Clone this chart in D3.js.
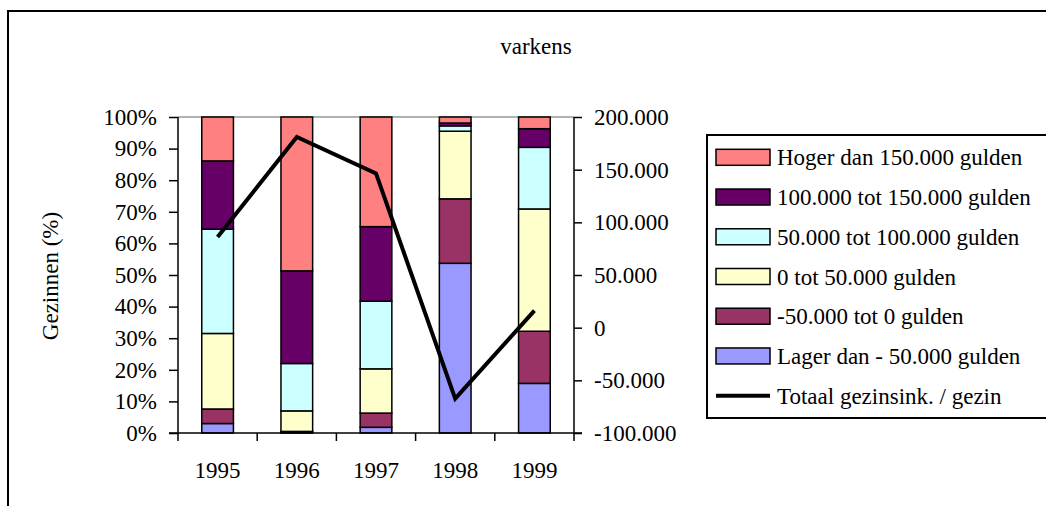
<!DOCTYPE html>
<html>
<head>
<meta charset="utf-8">
<script src="https://cdn.jsdelivr.net/npm/d3@7"></script>
<style>
  body { margin: 0; background: #fff; }
  svg text { font-family: "Liberation Serif", "Times New Roman", serif !important; fill: #000; }
</style>
</head>
<body>
<div id="chart"></div>
<script>
// data (percentages per year, bottom to top)
const years = ["1995", "1996", "1997", "1998", "1999"];
const series = ["Lager dan - 50.000 gulden", "-50.000 tot 0 gulden", "0 tot 50.000 gulden",
  "50.000 tot 100.000 gulden", "100.000 tot 150.000 gulden", "Hoger dan 150.000 gulden"];
const colors = ["#9999FF", "#993366", "#FFFFCC", "#CCFFFF", "#660066", "#FF8080"];
const lager = [3.0, 0.2, 1.8, 53.7, 15.7];
const negTot0 = [4.6, 0.3, 4.5, 20.4, 16.5];
const tot50 = [23.9, 6.5, 14.0, 21.4, 38.7];
const tot100 = [33.0, 15.0, 21.4, 1.7, 19.5];
const tot150 = [21.6, 29.3, 23.6, 0.9, 5.9];
const hoger = [13.9, 48.7, 34.7, 1.9, 3.7];
const totaal = [86000, 181000, 146500, -67400, 16100];
const lineName = "Totaal gezinsink. / gezin";
const leftTicks = [0, 10, 20, 30, 40, 50, 60, 70, 80, 90, 100];
const rightTicks = [-100000, -50000, 0, 50000, 100000, 150000, 200000];

const W = 1046, H = 506;
const plot = { left: 178, right: 574, top: 117, bottom: 433 };
const fs = "23px";

const svg = d3.select("#chart").append("svg")
  .attr("width", W)
  .attr("height", H)
  .style("font-family", "'Liberation Serif', 'Times New Roman', serif");

// outer chart border
svg.append("rect")
  .attr("x", 8).attr("y", 11)
  .attr("width", W + 20).attr("height", H + 20)
  .attr("fill", "none")
  .attr("stroke", "#000")
  .attr("stroke-width", 2);

svg.append("text")
  .attr("x", 536).attr("y", 54)
  .attr("text-anchor", "middle")
  .style("font-size", fs)
  .text("varkens");

const x = d3.scaleBand()
  .domain(years)
  .range([plot.left, plot.right])
  .paddingInner(0.6)
  .paddingOuter(0.3);

const xOuter = d3.scaleBand()
  .domain(years)
  .range([plot.left, plot.right]);

const y = d3.scaleLinear().domain([0, 100]).range([plot.bottom, plot.top]);
const y2 = d3.scaleLinear().domain([-100000, 200000]).range([plot.bottom, plot.top]);

// gray top gridline
svg.append("line")
  .attr("x1", plot.left).attr("x2", plot.right)
  .attr("y1", y(100)).attr("y2", y(100))
  .attr("stroke", "#999").attr("stroke-width", 1.5);

// stacked bars
const table = years.map(function (yr, i) {
  return { year: yr, v: [lager[i], negTot0[i], tot50[i], tot100[i], tot150[i], hoger[i]] };
});
const stack = d3.stack()
  .keys(d3.range(series.length))
  .value(function (d, k) { return d.v[k]; });
const layers = stack(table);

svg.append("g").selectAll("g")
  .data(layers)
  .enter().append("g")
    .attr("fill", function (d, i) { return colors[i]; })
  .selectAll("rect")
  .data(function (d) { return d; })
  .enter().append("rect")
    .attr("x", function (d) { return x(d.data.year); })
    .attr("width", x.bandwidth())
    .attr("y", function (d) { return y(d[1]); })
    .attr("height", function (d) { return y(d[0]) - y(d[1]); })
    .attr("stroke", "#000")
    .attr("stroke-width", 1.5);

// left axis
const fmtPct = function (d) { return d + "%"; };
const leftAxis = svg.append("g")
  .attr("transform", "translate(" + plot.left + ",0)")
  .call(d3.axisLeft(y).tickValues(leftTicks).tickFormat(fmtPct).tickSize(9).tickPadding(12));

// right axis, Dutch number format with plain hyphen
const fmtNl = d3.formatLocale({ decimal: ",", thousands: ".", grouping: [3], currency: ["", ""], minus: "-" }).format(",d");
const rightAxis = svg.append("g")
  .attr("transform", "translate(" + plot.right + ",0)")
  .call(d3.axisRight(y2).tickValues(rightTicks).tickFormat(fmtNl).tickSize(8).tickPadding(12));

// bottom axis with ticks between categories
const bottomAxis = svg.append("g")
  .attr("transform", "translate(0," + plot.bottom + ")");
bottomAxis.append("line")
  .attr("x1", plot.left - 9).attr("x2", plot.right + 8)
  .attr("stroke", "#000").attr("stroke-width", 1.5);
bottomAxis.selectAll(".sep")
  .data(years.concat(["end"]))
  .enter().append("line")
    .attr("x1", function (d, i) { return i < years.length ? xOuter(d) : plot.right; })
    .attr("x2", function (d, i) { return i < years.length ? xOuter(d) : plot.right; })
    .attr("y1", 0).attr("y2", 8)
    .attr("stroke", "#000").attr("stroke-width", 1.5);
bottomAxis.selectAll(".lbl")
  .data(years)
  .enter().append("text")
    .attr("x", function (d) { return xOuter(d) + xOuter.bandwidth() / 2; })
    .attr("y", 45)
    .attr("text-anchor", "middle")
    .style("font-size", fs)
    .text(function (d) { return d; });

[leftAxis, rightAxis].forEach(function (a) {
  a.attr("font-family", null).attr("font-size", null);
  a.selectAll("text").style("font-size", fs);
  a.selectAll("line").attr("stroke", "#000").attr("stroke-width", 1.5);
  a.select(".domain").remove();
  a.append("line").attr("y1", plot.top).attr("y2", plot.bottom).attr("stroke", "#000").attr("stroke-width", 1.5);
});

// line series on right axis
const line = d3.line()
  .x(function (d, i) { return xOuter(years[i]) + xOuter.bandwidth() / 2; })
  .y(function (d) { return y2(d); });
svg.append("path")
  .datum(totaal)
  .attr("d", line)
  .attr("fill", "none")
  .attr("stroke", "#000")
  .attr("stroke-width", 4);

// y title
svg.append("text")
  .attr("transform", "translate(58,276) rotate(-90)")
  .attr("text-anchor", "middle")
  .style("font-size", fs)
  .text("Gezinnen (%)");

// legend
const legend = svg.append("g");
legend.append("rect")
  .attr("x", 707).attr("y", 135)
  .attr("width", 400).attr("height", 283)
  .attr("fill", "none").attr("stroke", "#000").attr("stroke-width", 2);

const legendItems = series.map(function (s, i) { return { name: s, color: colors[i] }; }).reverse();
const rowY = d3.scaleLinear().domain([0, 6]).range([157.3, 395.7]);

const rows = legend.selectAll(".row")
  .data(legendItems.concat([{ name: lineName, color: null }]))
  .enter().append("g")
    .attr("transform", function (d, i) { return "translate(716," + rowY(i) + ")"; });

rows.filter(function (d) { return d.color; })
  .append("rect")
    .attr("x", 0).attr("y", -8)
    .attr("width", 54).attr("height", 16)
    .attr("fill", function (d) { return d.color; })
    .attr("stroke", "#000").attr("stroke-width", 1.5);
rows.filter(function (d) { return !d.color; })
  .append("line")
    .attr("x1", 0).attr("x2", 54)
    .attr("stroke", "#000").attr("stroke-width", 4);
rows.append("text")
  .attr("x", 61).attr("y", 8)
  .style("font-size", fs)
  .text(function (d) { return d.name; });
</script>
</body>
</html>
